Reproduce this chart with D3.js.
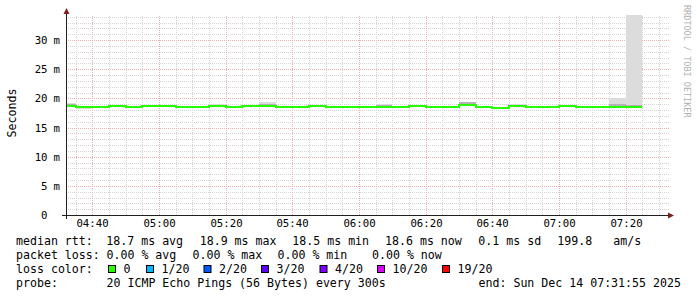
<!DOCTYPE html>
<html lang="en">
<head>
<meta charset="utf-8">
<title>Smokeping median rtt</title>
<script src="https://cdnjs.cloudflare.com/ajax/libs/d3/7.8.5/d3.min.js"></script>
<style>
    body { margin: 0; background: #fff; }
    svg text { font-family: "DejaVu Sans Mono", monospace; fill: #000; white-space: pre; }
</style>
</head>
<body>
<div id="chart"></div>
<script>
// start of each 5 minute step (UTC clock time)
var steps = ["04:30","04:35","04:40","04:45","04:50","04:55","05:00","05:05","05:10","05:15",
             "05:20","05:25","05:30","05:35","05:40","05:45","05:50","05:55","06:00","06:05",
             "06:10","06:15","06:20","06:25","06:30","06:35","06:40","06:45","06:50","06:55",
             "07:00","07:05","07:10","07:15","07:20"];
// median rtt in ms
var median = [18.7,18.55,18.55,18.7,18.55,18.7,18.7,18.55,18.55,18.7,
              18.6,18.75,18.7,18.5,18.5,18.65,18.6,18.6,18.6,18.6,
              18.6,18.7,18.55,18.55,18.8,18.55,18.35,18.65,18.5,18.5,
              18.7,18.5,18.5,18.6,18.55];
// smoke: lightest band (all pings)
var smokeLo = [18.6,18.2,18.45,18.6,18.45,18.6,18.6,18.45,18.45,18.6,
               18.5,18.45,18.6,18.4,18.4,18.55,18.5,18.5,18.5,18.5,
               18.5,18.6,18.45,18.45,18.7,18.35,18.2,18.55,18.4,18.4,
               18.6,18.4,18.4,18.5,18.45];
var smokeHi = [19.2,18.65,18.65,18.8,18.65,18.8,18.8,18.65,18.65,19.0,
               18.7,18.85,19.4,18.6,18.6,18.75,18.7,18.7,18.7,18.95,
               18.7,18.8,18.65,18.65,19.4,18.65,18.45,19.1,18.75,18.75,
               18.8,18.6,18.6,20.1,34.3];
// smoke: darker inner band
var coreLo = [18.65,18.4,18.5,18.65,18.5,18.65,18.65,18.5,18.5,18.65,
              18.55,18.55,18.65,18.45,18.45,18.6,18.55,18.55,18.55,18.55,
              18.55,18.65,18.5,18.5,18.75,18.45,18.3,18.6,18.45,18.45,
              18.65,18.45,18.45,18.55,18.5];
var coreHi = [19.0,18.6,18.6,18.75,18.6,18.75,18.75,18.6,18.6,18.85,
              18.65,18.8,19.1,18.55,18.55,18.7,18.65,18.65,18.65,18.8,
              18.65,18.75,18.6,18.6,19.3,18.6,18.4,18.9,18.6,18.6,
              18.75,18.55,18.55,19.0,18.9];

var yTicks = [0, 5, 10, 15, 20, 25, 30];
var lossLabels = ["0", "1/20", "2/20", "3/20", "4/20", "10/20", "19/20"];
var lossColors = ["#26ff00", "#00b8ff", "#0059ff", "#5e00ff", "#7e00ff", "#dd00ff", "#ff0000"];

var width = 697, height = 297;
var parse = d3.utcParse("%Y-%m-%d %H:%M:%S");
var start = parse("2025-12-14 04:31:55");
var end = parse("2025-12-14 07:31:55");

var x = d3.scaleUtc().domain([start, end]).rangeRound([65.5, 665.5]).clamp(true);
var y = d3.scaleLinear().domain([0, 34.29]).rangeRound([215, 15]);

var data = steps.map(function(s, i) {
    var t = parse("2025-12-14 " + s + ":00");
    return {t: t, t2: d3.utcMinute.offset(t, 5), med: median[i],
            lo: smokeLo[i], hi: smokeHi[i], clo: coreLo[i], chi: coreHi[i]};
});

var svg = d3.select("#chart").append("svg")
    .attr("width", width).attr("height", height);
svg.append("rect").attr("width", width).attr("height", height).attr("fill", "#fff");

// grids
var minorTimes = x.ticks(d3.utcMinute.every(5)).filter(function(d){ return d.getUTCMinutes() % 20; });
var majorTimes = x.ticks(d3.utcMinute.every(20));
var minorVals = d3.range(1, 35).filter(function(v){ return v % 5; });

function gridStyle(g, color) {
    g.select(".domain").remove();
    g.selectAll("line").attr("stroke", color).attr("stroke-dasharray", "1,1");
}

svg.append("g").attr("transform", "translate(0,215)")
    .call(d3.axisBottom(x).tickValues(minorTimes).tickSize(-200).tickFormat(""))
    .call(gridStyle, "#d4d4d4");
svg.append("g").attr("transform", "translate(66,0)")
    .call(d3.axisLeft(y).tickValues(minorVals).tickSize(-603).tickFormat(""))
    .call(gridStyle, "#d4d4d4");
svg.append("g").attr("transform", "translate(0,215)")
    .call(d3.axisBottom(x).tickValues(majorTimes).tickSize(-200).tickFormat(""))
    .call(gridStyle, "#f0b0b0");
svg.append("g").attr("transform", "translate(66,0)")
    .call(d3.axisLeft(y).tickValues(yTicks.filter(function(v){ return v > 0; })).tickSize(-603).tickFormat(""))
    .call(gridStyle, "#f0b0b0");

// smoke
svg.append("g").selectAll("rect").data(data).enter().append("rect")
    .attr("x", function(d){ return x(d.t); })
    .attr("width", function(d){ return x(d.t2) - x(d.t); })
    .attr("y", function(d){ return y(d.hi); })
    .attr("height", function(d){ return y(d.lo) - y(d.hi); })
    .attr("fill", "#dcdcdc");
svg.append("g").selectAll("rect").data(data).enter().append("rect")
    .attr("x", function(d){ return x(d.t); })
    .attr("width", function(d){ return x(d.t2) - x(d.t); })
    .attr("y", function(d){ return y(d.chi); })
    .attr("height", function(d){ return y(d.clo) - y(d.chi); })
    .attr("fill", "#b2b2b2");

// median line (loss 0 everywhere -> green)
var pts = data.map(function(d){ return [x(d.t), y(d.med) - 0.5]; });
pts.push([x(data[data.length - 1].t2), y(median[median.length - 1]) - 0.5]);
svg.append("path")
    .attr("d", d3.line().curve(d3.curveStepAfter)(pts))
    .attr("fill", "none")
    .attr("stroke", lossColors[0])
    .attr("stroke-width", 2)
    .attr("shape-rendering", "crispEdges");

// axes
svg.append("line").attr("x1", 62).attr("x2", 669).attr("y1", 215.5).attr("y2", 215.5)
    .attr("stroke", "#1f1f1f");
svg.append("line").attr("x1", 66.5).attr("x2", 66.5).attr("y1", 219).attr("y2", 12)
    .attr("stroke", "#1f1f1f");
svg.append("path").attr("d", "M668,212.5L674,215.5L668,218.5Z").attr("fill", "#801f1f");
svg.append("path").attr("d", "M63.5,14L66.5,8L69.5,14Z").attr("fill", "#801f1f");

// x labels
var xl = svg.append("g").attr("transform", "translate(0,215)")
    .call(d3.axisBottom(x).tickValues(majorTimes).tickSize(0).tickPadding(4.5)
        .tickFormat(d3.utcFormat("%H:%M")));
xl.select(".domain").remove();
xl.attr("font-family", null).attr("font-size", 10.7);

// y labels
var yl = svg.append("g").attr("font-size", 10.7);
yl.selectAll("text.num").data(yTicks).enter().append("text")
    .attr("x", 47.5).attr("y", function(d){ return y(d) + 0.5; })
    .attr("dy", "0.36em").attr("text-anchor", "end")
    .text(function(d){ return d; });
yl.selectAll("text.unit").data(yTicks.filter(function(v){ return v > 0; })).enter().append("text")
    .attr("x", 53.5).attr("y", function(d){ return y(d) + 0.5; })
    .attr("dy", "0.36em").text("m");

// y title
svg.append("text").attr("transform", "translate(15.5,113) rotate(-90)")
    .attr("text-anchor", "middle").attr("font-size", 11.6).text("Seconds");

// watermark
svg.append("text").attr("transform", "translate(684,5) rotate(90)")
    .attr("font-size", 8.5).style("fill", "#b0b0b0").text("RRDTOOL / TOBI OETIKER");

// legend
var lg = svg.append("g").attr("font-size", 11.6);
function put(tx, px, py) { lg.append("text").attr("x", px).attr("y", py).text(tx); }
put("median rtt:", 16, 244.5);
put("18.7 ms avg", 106.3, 244.5);
put("18.9 ms max", 199.7, 244.5);
put("18.5 ms min", 292.3, 244.5);
put("18.6 ms now", 385, 244.5);
put("0.1 ms sd", 478.3, 244.5);
put("199.8", 557.3, 244.5);
put("am/s", 613.3, 244.5);

put("packet loss:", 16, 258.5);
put("0.00 % avg", 106.5, 258.5);
put("0.00 % max", 192.5, 258.5);
put("0.00 % min", 277.5, 258.5);
put("0.00 % now", 372, 258.5);

put("loss color:", 16, 272.5);
var boxX = [108.5, 146.5, 204, 261.5, 320, 377.5, 442.5];
lg.selectAll("rect").data(lossLabels).enter().append("rect")
    .attr("x", function(d, i){ return boxX[i]; })
    .attr("y", 265.5).attr("width", 7).attr("height", 7)
    .attr("fill", function(d, i){ return lossColors[i]; })
    .attr("stroke", "#000");
lg.selectAll("text.loss").data(lossLabels).enter().append("text")
    .attr("x", function(d, i){ return boxX[i] + 15; })
    .attr("y", 272.5).text(function(d){ return d; });

put("probe:", 16, 286.5);
put("20 ICMP Echo Pings (56 Bytes) every 300s", 106.5, 286.5);
put("end: Sun Dec 14 07:31:55 2025", 478.5, 286.5);
</script>
</body>
</html>
